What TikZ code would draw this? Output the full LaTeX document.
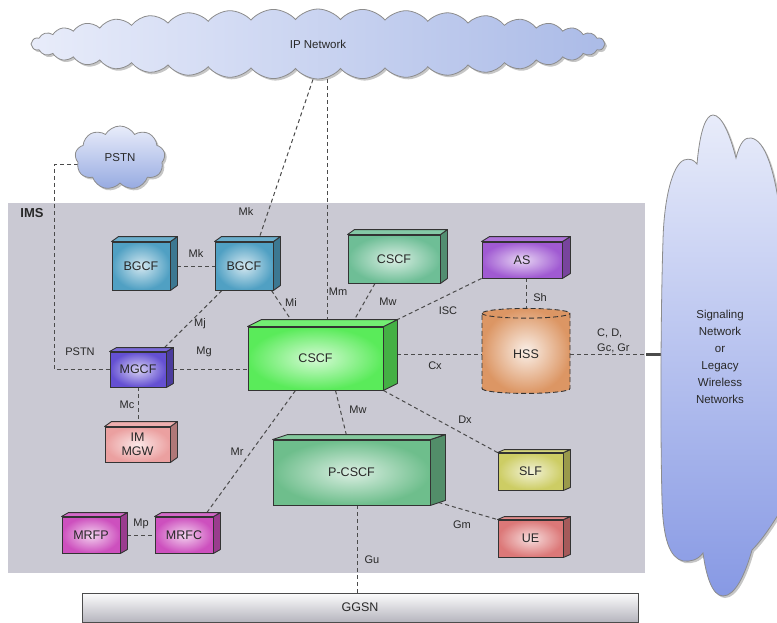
\documentclass[tikz,border=0pt]{standalone}
\usepackage{fontspec}
\setmainfont{Liberation Sans}
\usetikzlibrary{shapes.geometric,shapes.symbols,shadows,calc}
\pgfdeclarelayer{back}
\pgfdeclarelayer{wires}
\pgfsetlayers{back,wires,main}

\definecolor{imsbg}{RGB}{202,201,211}
\definecolor{bgcfc}{RGB}{80,160,195}
\definecolor{mgcfc}{RGB}{100,80,210}
\definecolor{cscfc}{RGB}{90,235,90}
\definecolor{scscfc}{RGB}{110,190,150}
\definecolor{asc}{RGB}{160,90,210}
\definecolor{hssc}{RGB}{220,150,100}
\definecolor{slfc}{RGB}{205,205,100}
\definecolor{uec}{RGB}{220,120,120}
\definecolor{mgwc}{RGB}{235,160,160}
\definecolor{mrfcol}{RGB}{205,80,190}
\definecolor{pcscfc}{RGB}{110,190,140}
\definecolor{cloudlt}{RGB}{232,236,250}
\definecolor{clouddk}{RGB}{150,170,225}
\definecolor{wire}{RGB}{75,75,75}
\definecolor{ink}{RGB}{40,40,40}

% front face as a named node, then the top and right faces behind it
\newcommand\solidbox[8]{%
  \node[unitbox, minimum width=#3, minimum height=#4,
        inner color=#7!25!white, outer color=#7] (#1) at #2 {#8};
  \filldraw[boxedge, fill=#7!75!black] (#1.north east) -- ++(#5,-#6)
     -- ([shift={(#5,-#6)}]#1.south east) -- (#1.south east) -- cycle;
  \filldraw[boxedge, fill=#7!85!white] (#1.north west) -- ++(#5,-#6)
     -- ([shift={(#5,-#6)}]#1.north east) -- (#1.north east) -- cycle;
}

\begin{document}
\begin{tikzpicture}[x=1pt,y=-1pt,
  wirestyle/.style={draw=wire, dash pattern=on 4pt off 3pt, line width=1pt},
  iflabel/.style={font=\fontsize{11}{13}\selectfont, text=ink, inner sep=0pt},
  unitbox/.style={draw=black!80, line width=0.9pt, align=center,
                  font=\fontsize{12.5}{14}\selectfont, text=ink, inner sep=0pt},
  boxedge/.style={draw=black!80, line width=0.9pt, line join=round},
  cloudfill/.style={draw=black!45, line width=0.8pt,
                   top color=cloudlt, bottom color=clouddk,
                   drop shadow={opacity=0.45, shadow xshift=2pt, shadow yshift=-2pt}},
  netcloud/.style={cloud, cloud ignores aspect, cloudfill, text=ink,
                   font=\fontsize{11.5}{17}\selectfont, align=center}]
\useasboundingbox (0,0) rectangle (777,623);

% IMS domain
\begin{pgfonlayer}{back}
  \node[fill=imsbg, minimum width=637pt, minimum height=370pt, anchor=north west,
        inner sep=0pt] (ims) at (8,203) {};
\end{pgfonlayer}
\node[font=\bfseries\fontsize{13}{15}\selectfont, text=ink, inner sep=0pt] (imslabel) at (32,213) {IMS};

% clouds
\node[netcloud, cloud puffs=40, cloud puff arc=100, minimum width=574pt, minimum height=70pt,
      left color=cloudlt, right color=clouddk!80!white] (ipnet) at (318,44) {IP Network};
\node[netcloud, cloud puffs=9, cloud puff arc=120, minimum width=90pt, minimum height=64pt] (pstn) at (120,158) {PSTN};

% tall cloud on the right, drawn as a free outline
\path[cloudfill, top color=cloudlt, bottom color=clouddk!90!blue]
  (663,240) .. controls (664,200) and (672,165) .. (684,160)
  .. controls (690,158) and (694,160) .. (697,164)
  .. controls (700,130) and (706,115) .. (713,115)
  .. controls (722,115) and (730,135) .. (736,158)
  .. controls (740,142) and (745,137) .. (751,138)
  .. controls (765,140) and (775,170) .. (781,220)
  -- (781,510)
  .. controls (772,525) and (762,540) .. (752,550)
  .. controls (745,575) and (735,596) .. (723,596)
  .. controls (712,596) and (706,575) .. (703,553)
  .. controls (698,560) and (690,562) .. (683,561)
  .. controls (670,558) and (663,540) .. (662,500)
  .. controls (660,420) and (661,300) .. (663,240) -- cycle;
\node[text=ink, font=\fontsize{11.5}{17}\selectfont, align=center] (signal) at (720,357)
  {Signaling\\Network\\or\\Legacy\\Wireless\\Networks};
\coordinate (sigedge) at (662,357);

% network elements
\solidbox{bgcfa}{(141,266)}{58pt}{48pt}{7}{5}{bgcfc}{BGCF}
\solidbox{bgcfb}{(244,266)}{58pt}{48pt}{7}{5}{bgcfc}{BGCF}
\solidbox{scscf}{(394,259)}{92pt}{48pt}{7}{5}{scscfc}{CSCF}
\solidbox{as}{(522,260)}{80pt}{36pt}{8}{5}{asc}{AS}
\solidbox{cscf}{(315.5,358.5)}{135pt}{63pt}{14}{7}{cscfc}{CSCF}
\solidbox{mgcf}{(138,369.5)}{56pt}{35pt}{7}{4}{mgcfc}{MGCF}
\solidbox{imgw}{(137.5,444.5)}{65pt}{35pt}{7}{5}{mgwc}{IM\\MGW}
\solidbox{mrfp}{(91,535)}{58pt}{36pt}{7}{4}{mrfcol}{MRFP}
\solidbox{mrfcbox}{(184,535)}{58pt}{36pt}{7}{4}{mrfcol}{MRFC}
\solidbox{pcscf}{(351.5,472.5)}{157pt}{65pt}{15}{5}{pcscfc}{P-CSCF}
\solidbox{slf}{(530.5,471.5)}{65pt}{37pt}{7}{3}{slfc}{SLF}
\solidbox{ue}{(530.5,538.5)}{65pt}{37pt}{7}{3}{uec}{UE}

\node[cylinder, shape border rotate=90, aspect=0.3, minimum width=88pt, minimum height=85pt,
      draw=black!80, line width=0.9pt, dash pattern=on 5pt off 3pt,
      inner color=hssc!15!white, outer color=hssc, text=ink,
      font=\fontsize{12.5}{14}\selectfont] (hss) at (526,354.5) {HSS};

\node[draw=black!70, line width=1pt, top color=white!95!imsbg, bottom color=imsbg!90!black,
      minimum width=556pt, minimum height=29pt, text=ink,
      font=\fontsize{12.5}{14}\selectfont] (ggsn) at (360,607.5) {GGSN};

% reference points on the clouds
\coordinate (ipa) at ([xshift=-5pt]ipnet.south);
\coordinate (ipb) at ([xshift=9pt]ipnet.south);

% interfaces
\begin{pgfonlayer}{wires}
  \draw[wirestyle] (ipa) -- ([xshift=14pt]bgcfb.north);
  \draw[wirestyle] (ipb) -- (ipb |- cscf.north);
  \draw[wirestyle] (bgcfa.east) -- (bgcfb.west);
  \draw[wirestyle] ([xshift=-2pt]bgcfb.south east) -- ([xshift=-20pt]cscf.north);
  \draw[wirestyle] ([xshift=-22pt]bgcfb.south) -- ([xshift=-6pt]mgcf.north east);
  \draw[wirestyle] (mgcf.east) -- (mgcf.east -| cscf.west);
  \draw[wirestyle] ([shift={(10pt,-7pt)}]pstn.west) -- ++(-31,0) |- (mgcf.west);
  \draw[wirestyle] ([xshift=-19pt]scscf.south) -- ([xshift=35pt]cscf.north);
  \draw[wirestyle] (as.south west) -- ([shift={(12pt,6pt)}]cscf.north east);
  \draw[wirestyle] (hss.north |- as.south) -- (hss.north);
  \draw[wirestyle] ([xshift=14pt]cscf.east |- hss.west) -- (hss.west);
  \draw[wirestyle] (hss.east) -- (hss.east -| sigedge);
  \draw[wire, line width=2.2pt] ([xshift=-16pt]hss.east -| sigedge) -- (hss.east -| sigedge);
  \draw[wirestyle] (cscf.south east) -- (slf.north west);
  \draw[wirestyle] ([xshift=20pt]cscf.south) -- ([xshift=-4pt]pcscf.north);
  \draw[wirestyle] ([xshift=-20pt]cscf.south) -- ([xshift=20pt]mrfcbox.north);
  \draw[wirestyle] (mrfp.east) -- (mrfcbox.west);
  \draw[wirestyle] (mgcf.south) -- (mgcf.south |- imgw.north);
  \draw[wirestyle] ([shift={(8pt,3pt)}]pcscf.south east) -- (ue.north west);
  \draw[wirestyle] ([xshift=6pt]pcscf.south) -- ([xshift=6pt]pcscf.south |- ggsn.north);
\end{pgfonlayer}

% interface labels
\node[iflabel] (lmka) at (246,212) {Mk};
\node[iflabel] (lmkb) at (196,254) {Mk};
\node[iflabel] (lmi)  at (291,303) {Mi};
\node[iflabel] (lmj)  at (200,324) {Mj};
\node[iflabel] (lmg)  at (204,352) {Mg};
\node[iflabel] (lpstn) at (80,352) {PSTN};
\node[iflabel] (lmm)  at (338,292) {Mm};
\node[iflabel] (lmwa) at (388,302) {Mw};
\node[iflabel] (lisc) at (448,311) {ISC};
\node[iflabel] (lsh)  at (540,298) {Sh};
\node[iflabel] (lcx)  at (435,366) {Cx};
\node[iflabel, align=left, anchor=west, font=\fontsize{11}{15}\selectfont] (lcd) at (597,341) {C, D,\\Gc, Gr};
\node[iflabel] (ldx)  at (465,420) {Dx};
\node[iflabel] (lmwb) at (358,410) {Mw};
\node[iflabel] (lmr)  at (237,452) {Mr};
\node[iflabel] (lmc)  at (127,405) {Mc};
\node[iflabel] (lmp)  at (141,524) {Mp};
\node[iflabel] (lgm)  at (462,525) {Gm};
\node[iflabel] (lgu)  at (372,560) {Gu};
\end{tikzpicture}
\end{document}
